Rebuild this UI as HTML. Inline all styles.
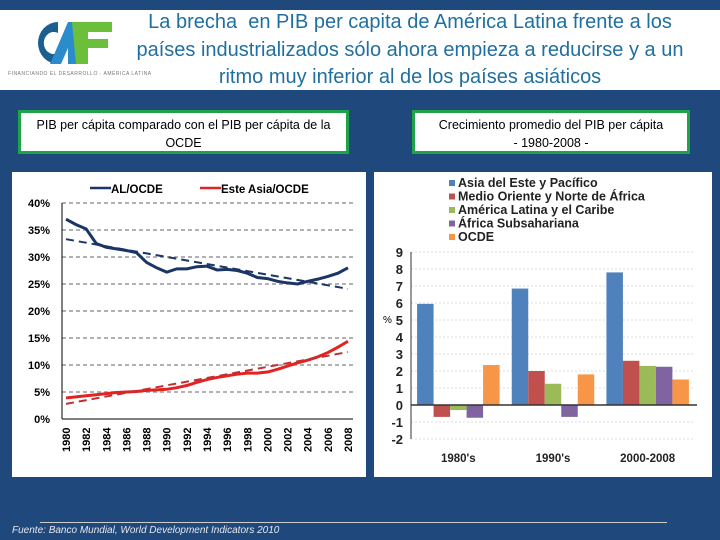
<!DOCTYPE html>
<html><head><meta charset="utf-8"><style>
body{margin:0;width:720px;height:540px;background:#1f497d;position:relative;overflow:hidden;font-family:"Liberation Sans",sans-serif}
.abs{position:absolute}
</style></head><body>
<div class="abs" style="left:0;top:10px;width:720px;height:80px;background:#fff"></div>
<svg class="abs" style="left:28px;top:20px" width="90" height="46" viewBox="0 0 90 46">
<path d="M30 2 A20 21 0 1 0 30 44 L30 33 A10 11 0 1 1 30 13 Z" fill="#1b5f8f"/>
<path d="M22 44 L40 2 L50 2 L50 44 L40 44 L40 28 L33 44 Z" fill="#2a8ccb"/>
<path d="M44 2 L84 2 L84 12 L60 12 L60 19 L80 19 L80 28 L60 28 L60 44 L48 44 Z" fill="#6bbf3a"/>
</svg>
<div class="abs" style="left:8px;top:71px;font-size:5px;color:#777;letter-spacing:0.5px">FINANCIANDO EL DESARROLLO · AMÉRICA LATINA</div>
<div class="abs" style="left:130px;top:9px;width:560px;text-align:center;font-size:20px;line-height:27.5px;color:#1f6fa0">La brecha&nbsp; en PIB per capita de América Latina frente a los países industrializados sólo ahora empieza a reducirse y a un ritmo muy inferior al de los países asiáticos</div>
<div class="abs" style="left:18px;top:110px;width:325px;padding-top:3px;height:35px;border:3px solid #1fa34a;background:#fff;text-align:center;font-size:12.5px;line-height:18px">PIB per cápita comparado con el PIB per cápita de la OCDE</div>
<div class="abs" style="left:412px;top:110px;width:272px;height:35px;padding-top:3px;border:3px solid #1fa34a;background:#fff;text-align:center;font-size:12.5px;line-height:18px">Crecimiento promedio del PIB per cápita<br>- 1980-2008 -</div>
<div class="abs" style="left:12px;top:172px;width:354px;height:305px;background:#fff"></div>
<div class="abs" style="left:374px;top:172px;width:338px;height:305px;background:#fff"></div>
<div class="abs" style="left:40px;top:522px;width:627px;height:1px;background:#ccc"></div>
<div class="abs" style="left:12px;top:525px;font-size:10px;font-style:italic;color:#e8e8e8">Fuente: Banco Mundial, World Development Indicators 2010</div>
<svg class="abs" id="lc" style="left:0;top:0" width="720" height="540"></svg>
<svg class="abs" id="bc" style="left:0;top:0" width="720" height="540"></svg>
<script>
const years=[1980,1981,1982,1983,1984,1985,1986,1987,1988,1989,1990,1991,1992,1993,1994,1995,1996,1997,1998,1999,2000,2001,2002,2003,2004,2005,2006,2007,2008];
const alOcde=[37,36,35.2,32.5,31.8,31.5,31.2,30.8,29,28,27.2,27.8,27.8,28.2,28.3,27.6,27.7,27.5,27,26.2,26,25.5,25.2,25,25.5,25.9,26.4,27,28];
const asiaOcde=[3.9,4.1,4.3,4.5,4.7,4.9,5,5.1,5.3,5.4,5.5,5.8,6.2,6.8,7.3,7.7,8,8.3,8.5,8.5,8.7,9.2,9.8,10.4,10.9,11.5,12.3,13.3,14.4];
const alTrend=[33.3,24.1];
const asiaTrend=[2.8,12.4];
const yTicks=[0,5,10,15,20,25,30,35,40];
const NS='http://www.w3.org/2000/svg';
function mk(p,t,a){const e=document.createElementNS(NS,t);for(const k in a)e.setAttribute(k,a[k]);p.appendChild(e);return e;}
const lc=document.getElementById('lc');
const X=y=>66+(y-1980)*(348-66)/28, Y=v=>419-v*(216/40);
yTicks.forEach(v=>{
 if(v>0){const g=mk(lc,'line',{x1:62,x2:353,y1:Y(v),y2:Y(v),stroke:'#999','stroke-width':1.5,'stroke-dasharray':'4,3'});
 
 }
 const t=mk(lc,'text',{x:50,y:Y(v)+4,'text-anchor':'end','font-size':11,'font-weight':'bold'});t.textContent=v+'%';
 
 
});
mk(lc,'line',{x1:62,x2:62,y1:Y(40),y2:Y(0),stroke:'#000'});
mk(lc,'line',{x1:62,x2:353,y1:Y(0),y2:Y(0),stroke:'#000'});
years.forEach((y,i)=>{if(i%2==0){const t=mk(lc,'text',{x:0,y:0,'font-size':11,'font-weight':'bold',transform:`translate(${X(y)+4},452) rotate(-90)`});t.textContent=y;
 
 }});
function line(arr,col,name){const p=mk(lc,'polyline',{points:arr.map((v,i)=>X(years[i])+','+Y(v)).join(' '),fill:'none',stroke:col,'stroke-width':3});
 
 }
function trend(a,col,name){const l=mk(lc,'line',{x1:X(1980),y1:Y(a[0]),x2:X(2008),y2:Y(a[1]),stroke:col,'stroke-width':2,'stroke-dasharray':'8,5'});
 
 }
line(alOcde,'#1a3566','al-ocde-line');trend(alTrend,'#1a3566','al-ocde-trend');
line(asiaOcde,'#e32222','asia-ocde-line');trend(asiaTrend,'#c03030','asia-ocde-trend');
const lg=[[90,'#1a3566','AL/OCDE'],[200,'#e32222','Este Asia/OCDE']];
lg.forEach(l=>{mk(lc,'line',{x1:l[0],x2:l[0]+21,y1:188,y2:188,stroke:l[1],'stroke-width':2.5});const t=mk(lc,'text',{x:l[0]+21,y:193,'font-size':11.5,'font-weight':'bold'});t.textContent=l[2];
 
 });

const periods=["1980's","1990's","2000-2008"];
const regions=['Asia del Este y Pacífico','Medio Oriente y Norte de África','América Latina y el Caribe','África Subsahariana','OCDE'];
const colors=['#4f81bd','#c0504d','#9bbb59','#8064a2','#f79646'];
const asiaEste=[5.95,6.85,7.8];
const medioOriente=[-0.7,2.0,2.6];
const americaLatina=[-0.3,1.25,2.3];
const africaSub=[-0.75,-0.7,2.25];
const ocde=[2.35,1.8,1.5];
const series=[asiaEste,medioOriente,americaLatina,africaSub,ocde];
const bTicks=[-2,-1,0,1,2,3,4,5,6,7,8,9];
const bc=document.getElementById('bc');
const BY=v=>405-v*17, left=411,right=695,gw=(right-left)/3,bw=16.5;
bTicks.forEach(v=>{
 if(v!=0){const g=mk(bc,'line',{x1:left,x2:right,y1:BY(v),y2:BY(v),stroke:'#ddd','stroke-dasharray':'2,2'});
 
 }
 const t=mk(bc,'text',{x:403,y:BY(v)+5,'text-anchor':'end','font-size':13,'font-weight':'bold',fill:'#222'});t.textContent=v;
 
 
});
mk(bc,'line',{x1:left,x2:left,y1:BY(9),y2:BY(-2),stroke:'#333'});
const pct=mk(bc,'text',{x:383,y:323,'font-size':10});pct.textContent='%';
series.forEach((s,si)=>s.forEach((v,gi)=>{
 const x=left+gi*gw+gw/2-2.5*bw+si*bw;
 const r=mk(bc,'rect',{x:x,y:Math.min(BY(v),BY(0)),width:bw,height:Math.abs(BY(v)-BY(0)),fill:colors[si]});
 
 
}));
mk(bc,'line',{x1:left,x2:right+2,y1:BY(0),y2:BY(0),stroke:'#333','stroke-width':1.5});
periods.forEach((p,i)=>{const t=mk(bc,'text',{x:left+i*gw+gw/2,y:462,'text-anchor':'middle','font-size':11.5,'font-weight':'bold',fill:'#222'});t.textContent=p;
 
 });
regions.forEach((r,i)=>{const yy=187+i*13.5;mk(bc,'rect',{x:449,y:yy-7,width:6,height:6,fill:colors[i]});
 const t=mk(bc,'text',{x:458,y:yy,'font-size':12.5,'font-weight':'bold',fill:'#222'});t.textContent=r;
 
 });
</script>
</body></html>
